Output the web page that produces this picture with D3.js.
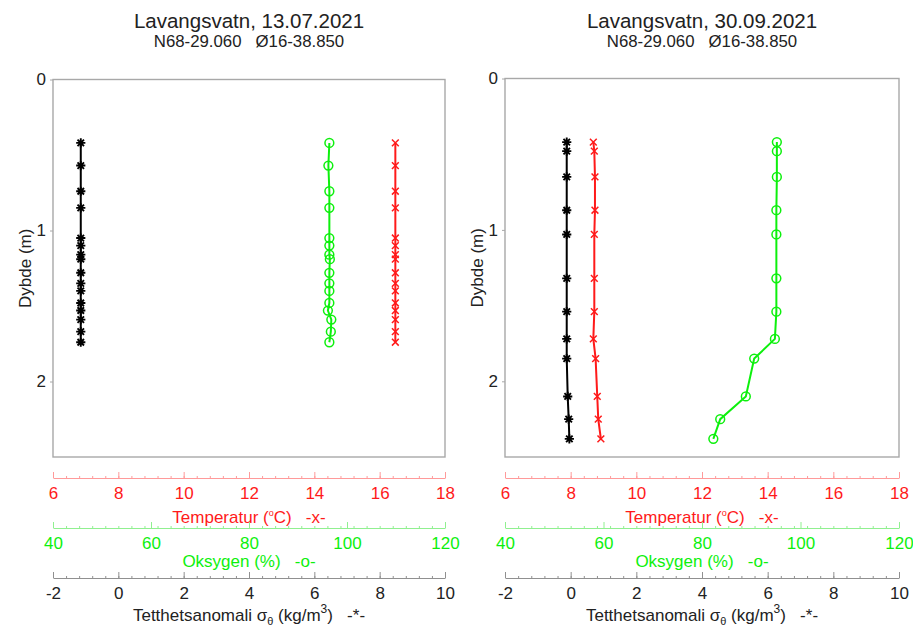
<!DOCTYPE html>
<html>
<head>
<meta charset="utf-8">
<script src="https://cdn.jsdelivr.net/npm/d3@7"></script>
<style>
  body { margin: 0; background: #fff; }
  svg { font-family: "Liberation Sans", Arial, sans-serif; }
</style>
</head>
<body>
<svg id="chart" width="913" height="628"></svg>
<script>
// profile 1: 13.07.2021
var depth1 = [0.42, 0.57, 0.74, 0.85, 1.05, 1.10, 1.16, 1.19, 1.28, 1.35, 1.40, 1.48, 1.53, 1.59, 1.67, 1.74];
var temp1  = [16.48, 16.48, 16.48, 16.48, 16.48, 16.48, 16.48, 16.48, 16.48, 16.48, 16.48, 16.48, 16.48, 16.48, 16.48, 16.48];
var oxy1   = [96.4, 96.2, 96.4, 96.4, 96.4, 96.4, 96.4, 96.5, 96.4, 96.4, 96.4, 96.4, 96.1, 96.8, 96.7, 96.4];
var sigma1 = [-1.15, -1.15, -1.15, -1.15, -1.15, -1.15, -1.15, -1.15, -1.15, -1.15, -1.15, -1.15, -1.15, -1.15, -1.15, -1.15];

// profile 2: 30.09.2021
var depth2 = [0.42, 0.48, 0.65, 0.87, 1.03, 1.32, 1.54, 1.72, 1.85, 2.10, 2.25, 2.38];
var temp2  = [8.69, 8.72, 8.74, 8.74, 8.72, 8.72, 8.72, 8.69, 8.76, 8.81, 8.84, 8.92];
var oxy2   = [95.2, 95.2, 95.2, 95.1, 95.1, 95.1, 95.1, 94.8, 90.6, 88.9, 83.7, 82.3];
var sigma2 = [-0.12, -0.12, -0.12, -0.12, -0.12, -0.12, -0.12, -0.12, -0.12, -0.09, -0.06, -0.04];

var titles = ["Lavangsvatn, 13.07.2021", "Lavangsvatn, 30.09.2021"];
var subtitle = "N68-29.060   \u00d816-38.850";

var depthTicks = [0, 1, 2];
var tempTicks = [6, 8, 10, 12, 14, 16, 18];
var oxyTicks = [40, 60, 80, 100, 120];
var sigmaTicks = [-2, 0, 2, 4, 6, 8, 10];

var svg = d3.select("#chart");
var FONT = "'Liberation Sans', Arial, sans-serif";
var RED = "#ff1a1a", GREEN = "#0df00d";

var panels = [
    { x0: 53, x1: 445, top: 79.5, bottom: 457, depth: depth1, temp: temp1, oxy: oxy1, sigma: sigma1, title: titles[0] },
    { x0: 505, x1: 899, top: 78.5, bottom: 457, depth: depth2, temp: temp2, oxy: oxy2, sigma: sigma2, title: titles[1] }
];

function star(r) {
    var d = r * Math.SQRT1_2;
    return "M" + (-r) + ",0H" + r + "M0," + (-r) + "V" + r +
        "M" + (-d) + "," + (-d) + "L" + d + "," + d +
        "M" + (-d) + "," + d + "L" + d + "," + (-d);
}
function cross(r) {
    return "M" + (-r) + "," + (-r) + "L" + r + "," + r + "M" + (-r) + "," + r + "L" + r + "," + (-r);
}

function bottomAxis(g, scale, ticks, y, lineCol, textCol) {
    var dom = scale.domain();
    var minor = d3.range(31).map(function(i) { return dom[0] + i * (dom[1] - dom[0]) / 30; });
    var ax = g.append("g").attr("transform", "translate(0," + y + ")");
    ax.append("g")
        .call(d3.axisBottom(scale).tickValues(minor).tickSizeInner(-2).tickSizeOuter(0).tickFormat(""))
        .call(function(s) {
            s.select(".domain").attr("stroke", lineCol).attr("stroke-width", 1.2);
            s.selectAll(".tick line").attr("stroke", lineCol);
        });
    ax.append("g")
        .call(d3.axisBottom(scale).tickValues(ticks).tickSizeInner(-6).tickSizeOuter(0).tickPadding(9)
            .tickFormat(function(d) { return String(d); }))
        .call(function(s) {
            s.select(".domain").remove();
            s.selectAll(".tick line").attr("stroke", lineCol);
            s.selectAll(".tick text").attr("fill", textCol).attr("font-size", 17).style("font-family", FONT);
        });
    return ax;
}

panels.forEach(function(p) {
    var g = svg.append("g");
    var y = d3.scaleLinear().domain([0, 2.5]).range([p.top, p.bottom]);
    var xT = d3.scaleLinear().domain([6, 18]).range([p.x0, p.x1]);
    var xO = d3.scaleLinear().domain([40, 120]).range([p.x0, p.x1]);
    var xS = d3.scaleLinear().domain([-2, 10]).range([p.x0, p.x1]);
    var cx = (p.x0 + p.x1) / 2;

    g.append("text").attr("x", cx).attr("y", 28).attr("text-anchor", "middle")
        .attr("font-size", 20.5).attr("fill", "#222").text(p.title);
    g.append("text").attr("x", cx).attr("y", 46.5).attr("text-anchor", "middle")
        .attr("font-size", 16.8).attr("fill", "#222").style("white-space", "pre").text(subtitle);

    g.append("rect").attr("x", p.x0).attr("y", p.top)
        .attr("width", p.x1 - p.x0).attr("height", p.bottom - p.top)
        .attr("fill", "none").attr("stroke", "#a8a8a8").attr("stroke-width", 1.4);

    g.append("g").attr("transform", "translate(" + p.x0 + ",0)")
        .call(d3.axisLeft(y).tickValues(depthTicks).tickSizeInner(3).tickSizeOuter(0).tickPadding(4).tickFormat(d3.format("d")))
        .call(function(s) {
            s.select(".domain").remove();
            s.selectAll(".tick line").attr("stroke", "#a8a8a8");
            s.selectAll(".tick text").attr("fill", "#222").attr("font-size", 17).style("font-family", FONT);
        });

    g.append("text").attr("transform", "translate(" + (p.x0 - 22) + "," + ((p.top + p.bottom) / 2) + ") rotate(-90)")
        .attr("text-anchor", "middle").attr("font-size", 17).attr("fill", "#222").text("Dybde (m)");

    // series
    var series = [
        { vals: p.sigma, x: xS, col: "#000", mark: "star" },
        { vals: p.oxy, x: xO, col: GREEN, mark: "circle" },
        { vals: p.temp, x: xT, col: RED, mark: "cross" }
    ];
    series.forEach(function(s) {
        var pts = s.vals.map(function(v, i) { return [s.x(v), y(p.depth[i])]; });
        g.append("path").attr("d", d3.line()(pts))
            .attr("fill", "none").attr("stroke", s.col).attr("stroke-width", 2);
        var m = g.append("g").selectAll("path").data(pts).enter().append("path")
            .attr("transform", function(d) { return "translate(" + d[0] + "," + d[1] + ")"; })
            .attr("fill", "none").attr("stroke", s.col).attr("stroke-width", 1.5);
        if (s.mark == "star") m.attr("d", star(4.6)).attr("stroke-width", 1.9);
        else if (s.mark == "cross") m.attr("d", cross(3.4));
        else m.attr("d", d3.arc()({ innerRadius: 0, outerRadius: 4.4, startAngle: 0, endAngle: 2 * Math.PI }));
    });

    bottomAxis(g, xT, tempTicks, 478, "#ff9a9a", RED);
    g.append("text").attr("x", cx).attr("y", 522.5).attr("text-anchor", "middle")
        .attr("font-size", 17).attr("fill", RED).style("white-space", "pre")
        .html("Temperatur (<tspan baseline-shift='7' font-size='9'>o</tspan>C)   -x-");

    bottomAxis(g, xO, oxyTicks, 528, "#90f090", GREEN);
    g.append("text").attr("x", cx).attr("y", 566.5).attr("text-anchor", "middle")
        .attr("font-size", 17).attr("fill", GREEN).style("white-space", "pre")
        .text("Oksygen (%)   -o-");

    bottomAxis(g, xS, sigmaTicks, 578, "#909090", "#222");
    g.append("text").attr("x", cx).attr("y", 620.5).attr("text-anchor", "middle")
        .attr("font-size", 17).attr("fill", "#222").style("white-space", "pre")
        .html("Tetthetsanomali \u03c3<tspan baseline-shift='-4' font-size='11'>\u03b8</tspan> (kg/m<tspan baseline-shift='8' font-size='12'>3</tspan>)   -*-");
});
</script>
</body>
</html>
